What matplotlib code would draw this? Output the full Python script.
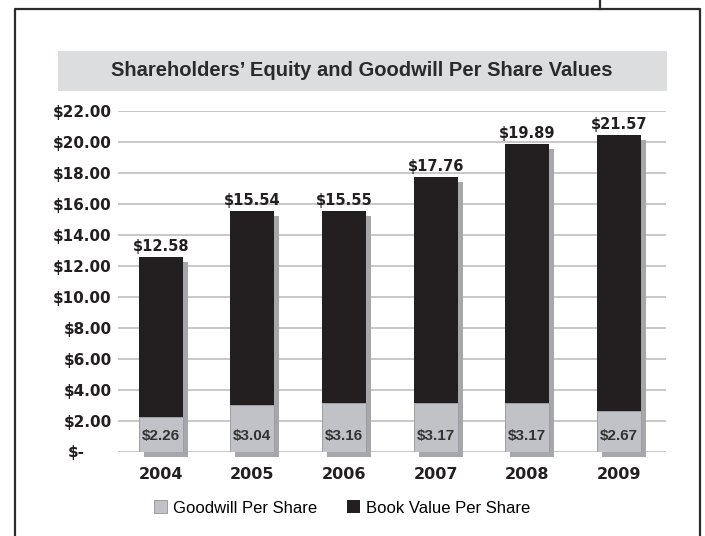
import matplotlib.pyplot as plt
from matplotlib.patches import Rectangle
from matplotlib.lines import Line2D
from matplotlib.transforms import offset_copy

years = ['2004', '2005', '2006', '2007', '2008', '2009']
goodwill = [2.26, 3.04, 3.16, 3.17, 3.17, 2.67]
book_value_labels = [12.58, 15.54, 15.55, 17.76, 19.89, 21.57]
# bar tops as drawn in the picture (2009 bar is shorter than its label)
book_value_bar = [12.58, 15.54, 15.55, 17.76, 19.89, 20.45]
yticks = [0, 2, 4, 6, 8, 10, 12, 14, 16, 18, 20, 22]

W, H = 705, 536
fig = plt.figure(figsize=(W / 100, H / 100), dpi=100)
fig.patch.set_facecolor('white')

def fx(px):
    return px / W

def fy(py):
    return 1 - py / H

# outer frame
frame_col = '#2b2b2b'
fig.add_artist(Line2D([fx(15), fx(15), fx(700), fx(700)], [0, fy(9), fy(9), 0],
                      color=frame_col, lw=1.6, transform=fig.transFigure))
fig.add_artist(Line2D([fx(600), fx(600)], [fy(9), 1], color=frame_col, lw=1.6,
                      transform=fig.transFigure))

# title band
fig.add_artist(Rectangle((fx(58), fy(91)), fx(667) - fx(58), fy(51) - fy(91),
                         facecolor='#dcdddf', edgecolor='none', transform=fig.transFigure))
fig.text(fx(362), fy(71), "Shareholders\u2019 Equity and Goodwill Per Share Values",
         ha='center', va='center', fontsize=14.5, fontweight='bold',
         family='Liberation Sans', color='#2a2a2a')

ax = fig.add_axes([fx(118), fy(452), fx(666) - fx(118), fy(111) - fy(452)])
x = list(range(len(years)))
ax.set_xlim(-0.467, 5.515)
ax.set_ylim(0, 22)

for y in yticks:
    ax.axhline(y, color='#c4c4c4', lw=1.3, zorder=0)

width = 0.48
shadow_tr = offset_copy(ax.transData, fig=fig, x=5, y=-5, units='dots')
ax.bar(x, book_value_bar, width, color='#a6a7ab', transform=shadow_tr,
       clip_on=False, zorder=1)
black = [t - g for t, g in zip(book_value_bar, goodwill)]
ax.bar(x, goodwill, width, color='#c1c2c7', edgecolor='#9c9da2', lw=0.7,
       zorder=2, label='Goodwill Per Share')
ax.bar(x, black, width, bottom=goodwill, color='#231f20', zorder=2,
       label='Book Value Per Share')

for i in x:
    ax.annotate('$%.2f' % book_value_labels[i], xy=(i, book_value_bar[i]),
                xytext=(0, 3), textcoords='offset pixels', ha='center', va='bottom',
                fontsize=10.5, fontweight='bold', color='#231f20')
    ax.text(i, 1.05, '$%.2f' % goodwill[i], ha='center', va='center',
            fontsize=11, fontweight='bold', family='Liberation Sans', color='#333333')

ax.set_yticks(yticks)
ax.set_yticklabels([''] + ['$%.2f' % v for v in yticks[1:]])
ax.annotate('$-', xy=(0, 0), xycoords=('axes fraction', 'data'), xytext=(-33, 0),
            textcoords='offset pixels', ha='right', va='center',
            fontsize=11, fontweight='bold', color='#231f20')
ax.set_xticks(x)
ax.set_xticklabels(years)
ax.tick_params(axis='y', length=0, pad=4.5, labelsize=11, labelcolor='#231f20')
ax.tick_params(axis='x', length=0, pad=10.5, labelsize=11.5, labelcolor='#231f20')
for lab in ax.get_yticklabels() + ax.get_xticklabels():
    lab.set_fontweight('bold')
for s in ax.spines.values():
    s.set_visible(False)

handles, labels = ax.get_legend_handles_labels()
fig.legend(handles, labels, loc='center', bbox_to_anchor=(fx(342), fy(508)),
           ncol=2, frameon=False, handlelength=0.8, handleheight=0.8,
           handletextpad=0.35, columnspacing=1.8,
           prop={'family': 'Liberation Sans', 'size': 12})

fig.savefig('out.png', dpi=100)
